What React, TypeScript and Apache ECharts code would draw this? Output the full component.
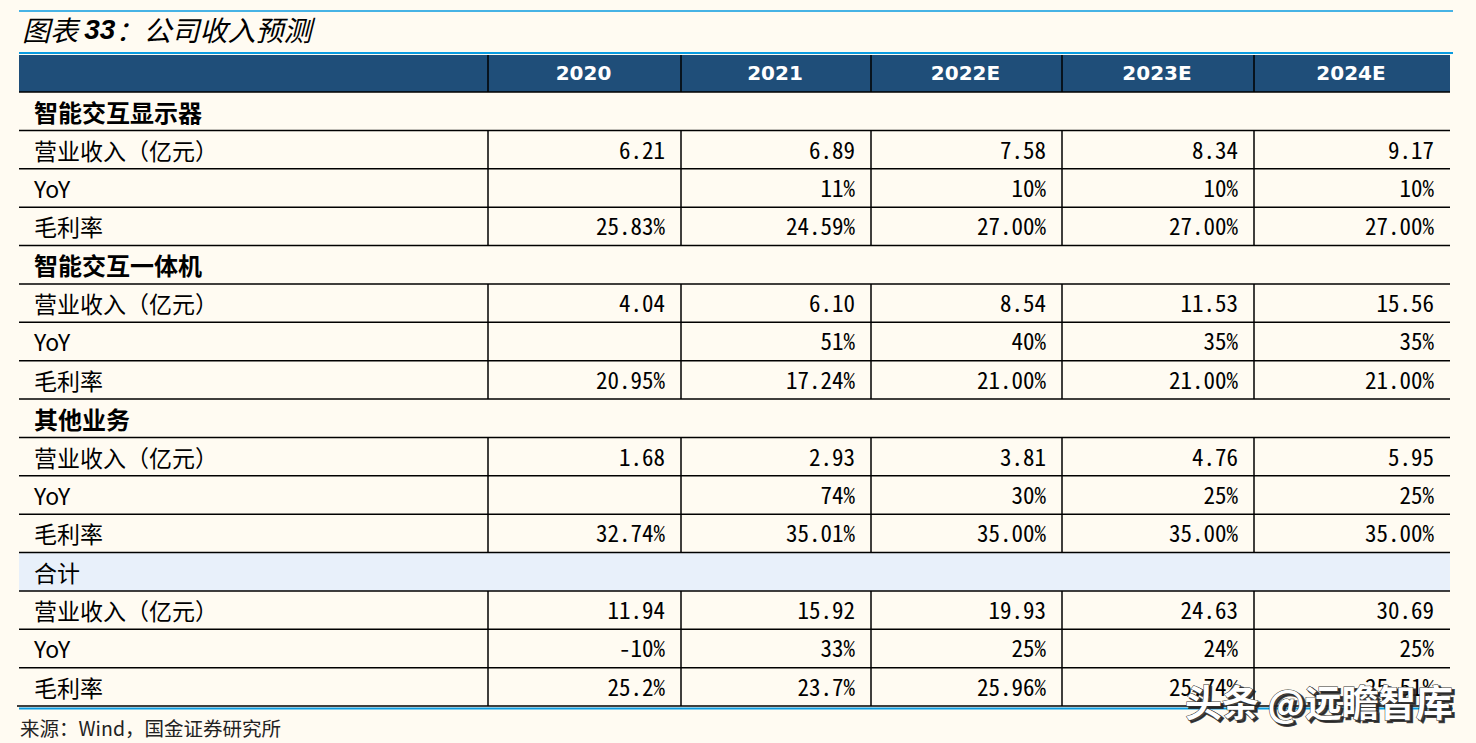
import React, { useEffect, useRef } from 'react';
import * as echarts from 'echarts';

const titleLead = '图表 ';
const titleNum = '33';
const titleRest = '：公司收入预测';
const sourceText = '来源：Wind，国金证券研究所';
const watermarkText = '头条 @远瞻智库';

const years = ['2020', '2021', '2022E', '2023E', '2024E'];
const sectionNames = ['智能交互显示器', '智能交互一体机', '其他业务', '合计'];
const metricNames = ['营业收入（亿元）', 'YoY', '毛利率'];

const displayRevenue = ['6.21', '6.89', '7.58', '8.34', '9.17'];
const displayYoY = ['', '11%', '10%', '10%', '10%'];
const displayMargin = ['25.83%', '24.59%', '27.00%', '27.00%', '27.00%'];

const allInOneRevenue = ['4.04', '6.10', '8.54', '11.53', '15.56'];
const allInOneYoY = ['', '51%', '40%', '35%', '35%'];
const allInOneMargin = ['20.95%', '17.24%', '21.00%', '21.00%', '21.00%'];

const otherRevenue = ['1.68', '2.93', '3.81', '4.76', '5.95'];
const otherYoY = ['', '74%', '30%', '25%', '25%'];
const otherMargin = ['32.74%', '35.01%', '35.00%', '35.00%', '35.00%'];

const totalRevenue = ['11.94', '15.92', '19.93', '24.63', '30.69'];
const totalYoY = ['-10%', '33%', '25%', '24%', '25%'];
const totalMargin = ['25.2%', '23.7%', '25.96%', '25.74%', '25.51%'];

const sectionData = [
  [displayRevenue, displayYoY, displayMargin],
  [allInOneRevenue, allInOneYoY, allInOneMargin],
  [otherRevenue, otherYoY, otherMargin],
  [totalRevenue, totalYoY, totalMargin],
];

const BG = '#FFFBF2';
const HEADER_FILL = '#1F4E79';
const TOTAL_FILL = '#E8F0FA';
const BLUE = '#0A9BE0';
const COL_X = [19, 488, 681, 871, 1062, 1254, 1450];
const HEAD_TOP = 55;
const HEAD_BOT = 92;
const ROW_H = 38.375;
const CJK = '"Noto Sans CJK SC", "Noto Sans CJK JP", sans-serif';
const NUM = '"Noto Sans Mono CJK SC", "Noto Sans CJK SC", "DejaVu Sans Mono", monospace';

function hLine(x1: number, x2: number, y: number, color: string, w: number) {
  return { type: 'line', shape: { x1, y1: y, x2, y2: y }, style: { stroke: color, lineWidth: w }, silent: true };
}
function vLine(x: number, y1: number, y2: number, color: string, w: number) {
  return { type: 'line', shape: { x1: x, y1, x2: x, y2 }, style: { stroke: color, lineWidth: w }, silent: true };
}

function buildGraphics() {
  const els: any[] = [];
  // title
  els.push({
    type: 'text', x: 22, y: 29,
    style: {
      text: `{a|${titleLead}}{b|${titleNum}}{a|${titleRest}}`,
      verticalAlign: 'middle',
      rich: {
        a: { fontFamily: CJK, fontSize: 28, fontStyle: 'italic', fill: '#000' },
        b: { fontFamily: '"Liberation Sans", Arial, sans-serif', fontSize: 28, fontWeight: 'bold', fontStyle: 'italic', fill: '#000' },
      },
    },
  });
  els.push(hLine(19, 1453, 11, BLUE, 1.5));
  els.push(hLine(19, 1453, 53, BLUE, 2));
  // header
  els.push({ type: 'rect', shape: { x: COL_X[0], y: HEAD_TOP, width: COL_X[6] - COL_X[0], height: HEAD_BOT - HEAD_TOP }, style: { fill: HEADER_FILL }, silent: true });
  years.forEach((yr, i) => {
    els.push({
      type: 'text', x: (COL_X[i + 1] + COL_X[i + 2]) / 2 - 1, y: (HEAD_TOP + HEAD_BOT) / 2 - 1,
      style: { text: yr, fill: '#fff', fontFamily: '"DejaVu Sans", sans-serif', fontWeight: 'bold', fontSize: 20, align: 'center', verticalAlign: 'middle' },
    });
  });
  for (let c = 1; c <= 5; c++) els.push(vLine(COL_X[c], HEAD_TOP, HEAD_BOT, '#000', 1.5));

  // body rows
  sectionNames.forEach((name, s) => {
    const r0 = s * 4;
    const top = HEAD_BOT + r0 * ROW_H;
    if (s === 3) {
      els.push({ type: 'rect', shape: { x: COL_X[0], y: top, width: COL_X[6] - COL_X[0], height: ROW_H }, style: { fill: TOTAL_FILL }, silent: true, z: -1 });
    }
    els.push({
      type: 'text', x: 34, y: top + ROW_H / 2,
      style: { text: name, fill: '#000', fontFamily: CJK, fontWeight: s < 3 ? 'bold' : 'normal', fontSize: s < 3 ? 24 : 23, verticalAlign: 'middle' },
    });
    metricNames.forEach((m, k) => {
      const rt = HEAD_BOT + (r0 + 1 + k) * ROW_H;
      const cy = rt + ROW_H / 2;
      els.push({
        type: 'text', x: 34, y: cy,
        style: { text: m, fill: '#000', fontFamily: CJK, fontSize: 23, verticalAlign: 'middle' },
      });
      sectionData[s][k].forEach((v, c) => {
        if (!v) return;
        els.push({
          type: 'text', x: COL_X[c + 2] - 16, y: cy - 1,
          style: { text: v, fill: '#000', fontFamily: NUM, fontSize: 23, align: 'right', verticalAlign: 'middle' },
        });
      });
      for (let c = 1; c <= 5; c++) els.push(vLine(COL_X[c], rt, rt + ROW_H, '#000', 1.5));
    });
  });
  for (let k = 0; k <= 16; k++) {
    els.push(hLine(k === 16 ? 17 : COL_X[0], COL_X[6], HEAD_BOT + k * ROW_H, '#000', 1.5));
  }
  els.push(hLine(19, 1453, 708.5, BLUE, 1.8));
  // source
  els.push({
    type: 'text', x: 20, y: 727,
    style: { text: sourceText, fill: '#222', fontFamily: CJK, fontSize: 19.5, verticalAlign: 'middle' },
  });
  // watermark (white glyphs with a dark shadow, drawn over the table as in the source)
  els.push({
    type: 'text', x: 1187.5, y: 703, z: 99, silent: true,
    style: { text: watermarkText, fill: '#222', stroke: '#222', lineWidth: 2, fontFamily: CJK, fontWeight: 'bold', fontSize: 37, verticalAlign: 'middle', opacity: 0.85 },
  });
  els.push({
    type: 'text', x: 1185, y: 701, z: 100,
    style: { text: watermarkText, fill: '#fff', stroke: '#333', lineWidth: 1, fontFamily: CJK, fontWeight: 'bold', fontSize: 37, verticalAlign: 'middle' },
  });
  return els;
}

export default function App() {
  const ref = useRef<HTMLDivElement>(null);
  useEffect(() => {
    if (!ref.current) return;
    const chart = echarts.init(ref.current, undefined, { renderer: 'svg' });
    chart.setOption({
      animation: false,
      backgroundColor: BG,
      graphic: { elements: buildGraphics() },
    });
    return () => chart.dispose();
  }, []);
  return <div ref={ref} style={{ position: 'fixed', left: 0, top: 0, width: 1476, height: 743, background: BG }} />;
}
